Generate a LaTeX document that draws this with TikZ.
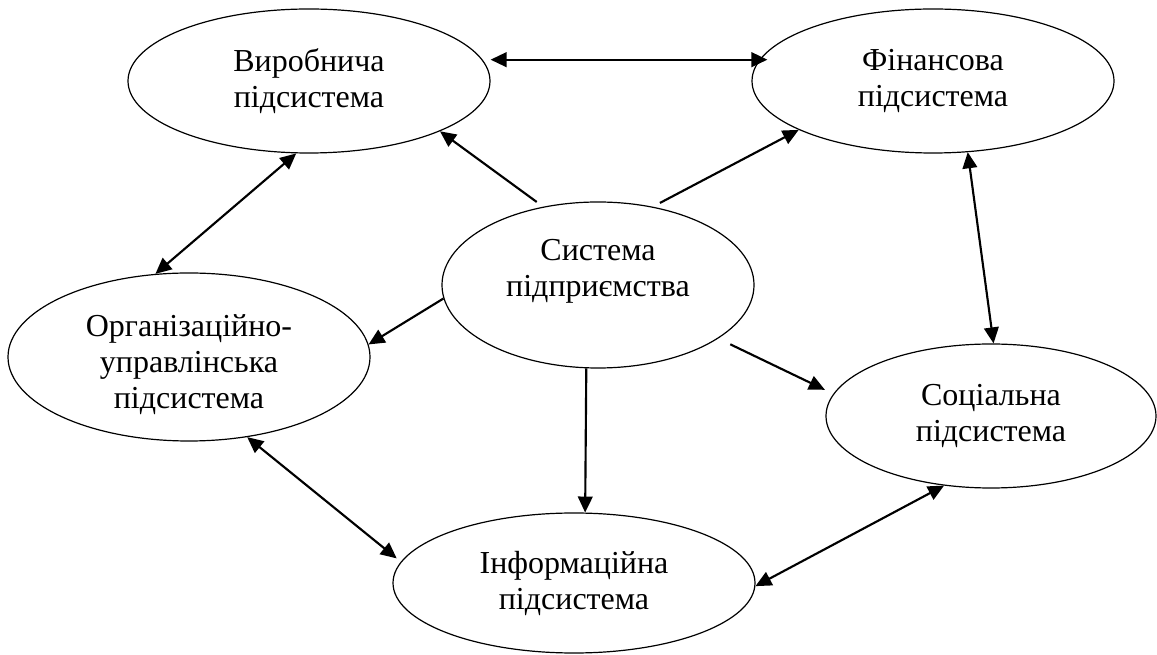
\documentclass[tikz,border=0pt]{standalone}
\usepackage{fontspec}
\setmainfont{Liberation Serif}
\usetikzlibrary{shapes.geometric,arrows.meta}

\tikzset{
  pidsys/.style={draw, ellipse, line width=0.9pt, align=center, inner sep=0pt, font=\fontsize{24}{27}\selectfont},
  zv/.style={line width=1.6pt, -{Triangle[length=12pt,width=11pt]}},
  zvv/.style={line width=1.6pt, {Triangle[length=12pt,width=11pt]}-{Triangle[length=12pt,width=11pt]}},
}

\begin{document}
\begin{tikzpicture}[x=0.75pt, y=-0.75pt]
			%%%%% START %%%%%
			\useasboundingbox (0, 0) rectangle (1157, 655);
			
			\node[pidsys, minimum width=271.5pt, minimum height=108pt] (vyrob) at (309, 81) {Виробнича\\підсистема};
			\node[pidsys, minimum width=271.5pt, minimum height=108pt] (finans) at (933, 81) {Фінансова\\підсистема};
			\node[pidsys, minimum width=234pt, minimum height=124.5pt, text depth=26pt] (systema) at (598, 285) {Система\\підприємства};
			\node[pidsys, minimum width=271.5pt, minimum height=126pt, text height=82pt] (orhan) at (189, 357) {Організаційно-\\управлінська\\підсистема};
			\node[pidsys, minimum width=247.5pt, minimum height=108pt] (sotsial) at (991, 416) {Соціальна\\підсистема};
			\node[pidsys, minimum width=271.5pt, minimum height=105pt] (inform) at (574, 583) {Інформаційна\\підсистема};
			
			\draw[zvv, shorten <=6pt, shorten >=-6pt] (vyrob.7) -- (finans.173);
			\draw[zv, shorten <=6pt] (systema.125) -- (vyrob.-21);
			\draw[zv, shorten <=6pt] (systema.55) -- (finans.200);
			\draw[zvv] (vyrob.260) -- (orhan.112);
			\draw[zvv] (finans.-64) -- (sotsial.88);
			\draw[zv] (systema.185) -- (orhan.4);
			\draw[zv, shorten <=10pt, shorten >=7pt] (systema.-24) -- (sotsial.172);
			\draw[zv] (systema.-98) -- (inform.81);
			\draw[zvv, shorten >=4pt] (orhan.-54) -- (inform.173);
			\draw[zvv] (inform.-1) -- (sotsial.236);
			
			%%%%% END %%%%%
\end{tikzpicture}
\end{document}
